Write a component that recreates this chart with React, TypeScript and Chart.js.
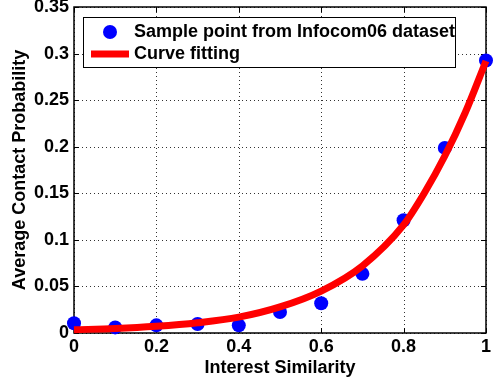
import React, { useEffect, useRef } from 'react';
import { Chart, registerables } from 'chart.js';

Chart.register(...registerables);

// ---- data ----
const sampleX = [0, 0.1, 0.2, 0.3, 0.4, 0.5, 0.6, 0.7, 0.8, 0.9, 1.0];
const sampleY = [0.0105, 0.006, 0.0082, 0.0096, 0.0082, 0.0225, 0.032, 0.0635, 0.121, 0.1987, 0.2926];

const curveX = [0, 0.1, 0.2, 0.3, 0.4, 0.5, 0.6, 0.7, 0.8, 0.85, 0.9, 0.95, 1.0];
const curveY = [0.0035, 0.0048, 0.0072, 0.011, 0.017, 0.028, 0.045, 0.072, 0.116, 0.15, 0.19, 0.237, 0.292];

const xTickValues = [0, 0.2, 0.4, 0.6, 0.8, 1];
const xTickLabels = ['0', '0.2', '0.4', '0.6', '0.8', '1'];
const yTickValues = [0, 0.05, 0.1, 0.15, 0.2, 0.25, 0.3, 0.35];
const yTickLabels = ['0', '0.05', '0.1', '0.15', '0.2', '0.25', '0.3', '0.35'];

const sampleLabel = 'Sample point from Infocom06 dataset';
const curveLabel = 'Curve fitting';
const xTitle = 'Interest Similarity';
const yTitle = 'Average Contact Probability';

const FONT = '"Liberation Sans", Arial, Helvetica, sans-serif';

const framePlugin = {
  id: 'matlabFrame',
  beforeDatasetsDraw(chart: any) {
    const { ctx, chartArea } = chart;
    const { left, right, top, bottom } = chartArea;
    const xs = chart.scales.x;
    const ys = chart.scales.y;
    ctx.save();
    // dotted grid
    ctx.strokeStyle = 'rgba(0,0,0,0.8)';
    ctx.lineWidth = 1;
    ctx.setLineDash([1, 3]);
    ctx.beginPath();
    xTickValues.forEach((v) => {
      const px = Math.round(xs.getPixelForValue(v)) + 0.5;
      ctx.moveTo(px, bottom);
      ctx.lineTo(px, top);
    });
    yTickValues.forEach((v) => {
      const py = Math.round(ys.getPixelForValue(v)) + 0.5;
      ctx.moveTo(left, py);
      ctx.lineTo(right, py);
    });
    ctx.stroke();
    ctx.setLineDash([]);
    // inward ticks
    ctx.strokeStyle = '#000';
    ctx.beginPath();
    const tl = 5;
    xTickValues.forEach((v) => {
      const px = Math.round(xs.getPixelForValue(v)) + 0.5;
      ctx.moveTo(px, bottom);
      ctx.lineTo(px, bottom - tl);
      ctx.moveTo(px, top);
      ctx.lineTo(px, top + tl);
    });
    yTickValues.forEach((v) => {
      const py = Math.round(ys.getPixelForValue(v)) + 0.5;
      ctx.moveTo(left, py);
      ctx.lineTo(left + tl, py);
      ctx.moveTo(right, py);
      ctx.lineTo(right - tl, py);
    });
    ctx.stroke();
    ctx.lineWidth = 1.5;
    ctx.strokeRect(left, top, right - left, bottom - top);
    ctx.restore();
  },
};

const legendPlugin = {
  id: 'matlabLegend',
  afterDraw(chart: any) {
    const { ctx, chartArea } = chart;
    const bx = chartArea.left + 9;
    const by = chartArea.top + 10;
    const bw = 372;
    const bh = 50;
    ctx.save();
    ctx.fillStyle = '#fff';
    ctx.fillRect(bx, by, bw, bh);
    ctx.strokeStyle = '#000';
    ctx.lineWidth = 1;
    ctx.strokeRect(bx + 0.5, by + 0.5, bw, bh);
    const ds = chart.data.datasets;
    const pts = ds.find((d: any) => d.label === sampleLabel);
    const crv = ds.find((d: any) => d.label === curveLabel);
    // marker
    ctx.fillStyle = pts.backgroundColor;
    ctx.beginPath();
    ctx.arc(bx + 27, by + 15, 7, 0, Math.PI * 2);
    ctx.fill();
    // line
    ctx.strokeStyle = crv.borderColor;
    ctx.lineWidth = 7;
    ctx.beginPath();
    ctx.moveTo(bx + 8, by + 37);
    ctx.lineTo(bx + 46, by + 37);
    ctx.stroke();
    ctx.fillStyle = '#000';
    ctx.font = `bold 18px ${FONT}`;
    ctx.textBaseline = 'middle';
    ctx.textAlign = 'left';
    ctx.fillText(pts.label, bx + 51, by + 15);
    ctx.fillText(crv.label, bx + 51, by + 37);
    ctx.restore();
  },
};

export default function App() {
  const ref = useRef<HTMLCanvasElement>(null);
  useEffect(() => {
    document.body.style.margin = '0';
    const canvas = ref.current!;
    const chart = new Chart(canvas, {
      type: 'scatter',
      data: {
        datasets: [
          {
            label: curveLabel,
            data: curveX.map((x, i) => ({ x, y: curveY[i] })),
            showLine: true,
            borderColor: '#ff0000',
            backgroundColor: '#ff0000',
            borderWidth: 7,
            pointRadius: 0,
            pointHoverRadius: 0,
            cubicInterpolationMode: 'monotone',
            clip: false,
            order: 0,
          } as any,
          {
            label: sampleLabel,
            data: sampleX.map((x, i) => ({ x, y: sampleY[i] })),
            showLine: false,
            backgroundColor: '#0000ff',
            borderColor: '#0000ff',
            borderWidth: 0,
            pointRadius: 7,
            pointHoverRadius: 7,
            clip: false,
            order: 1,
          } as any,
        ],
      },
      options: {
        animation: false,
        responsive: false,
        maintainAspectRatio: false,
        events: [],
        layout: { padding: { top: 6, right: 3, left: 0, bottom: 0 } },
        plugins: {
          legend: { display: false },
          tooltip: { enabled: false },
        },
        scales: {
          x: {
            type: 'linear',
            min: 0,
            max: 1,
            afterBuildTicks: (scale: any) => {
              scale.ticks = xTickValues.map((v) => ({ value: v }));
            },
            afterFit: (scale: any) => {
              scale.height = 49;
              scale.paddingLeft = 0;
              scale.paddingRight = 0;
            },
            ticks: {
              color: '#000',
              font: { family: FONT, size: 18, weight: 'bold' },
              padding: 3,
              maxRotation: 0,
              autoSkip: false,
              callback: (_v: any, i: number) => xTickLabels[i],
            },
            grid: { display: false, drawTicks: false },
            border: { display: false },
            title: {
              display: true,
              text: xTitle,
              color: '#000',
              font: { family: FONT, size: 18, weight: 'bold' },
              padding: { top: 0, bottom: 3 },
            },
          },
          y: {
            type: 'linear',
            min: 0,
            max: 0.35,
            afterBuildTicks: (scale: any) => {
              scale.ticks = yTickValues.map((v) => ({ value: v }));
            },
            afterFit: (scale: any) => {
              scale.width = 74;
              scale.paddingTop = 0;
              scale.paddingBottom = 0;
            },
            ticks: {
              color: '#000',
              font: { family: FONT, size: 18, weight: 'bold' },
              padding: 5,
              autoSkip: false,
              callback: (_v: any, i: number) => yTickLabels[i],
            },
            grid: { display: false, drawTicks: false },
            border: { display: false },
            title: {
              display: true,
              text: yTitle,
              color: '#000',
              font: { family: FONT, size: 18, weight: 'bold' },
              padding: { top: 9, bottom: 0 },
            },
          },
        },
      },
      plugins: [framePlugin, legendPlugin],
    });
    return () => chart.destroy();
  }, []);
  return (
    <div style={{ width: 493, height: 382 }}>
      <canvas ref={ref} width={493} height={382} style={{ display: 'block' }} />
    </div>
  );
}
